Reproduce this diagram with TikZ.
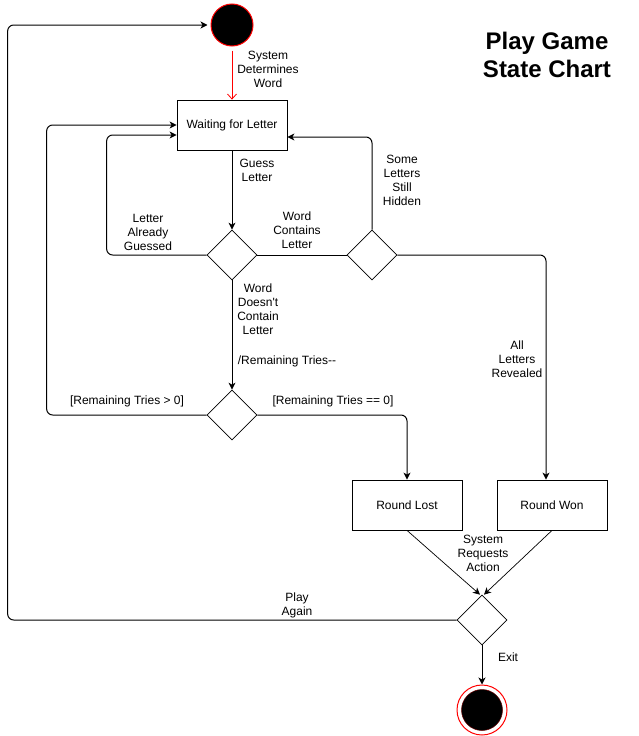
\documentclass[tikz,border=0pt]{standalone}
\usepackage{fontspec}
\newfontfamily\dfont{Liberation Sans}
\usetikzlibrary{shapes.geometric,arrows.meta}
\begin{document}
\begin{tikzpicture}[x=1pt,y=-1pt,
  lbl/.style={align=center,inner sep=0pt,font=\dfont\fontsize{12}{14}\selectfont},
  statebox/.style={draw,line width=0.8pt,minimum width=110pt,minimum height=50pt,inner sep=0pt,font=\dfont\fontsize{12}{14}\selectfont},
  choice/.style={diamond,draw,line width=0.7pt,minimum width=50pt,minimum height=50pt,inner sep=0pt},
  initial/.style={circle,draw=red,line width=1pt,fill=black,minimum size=42pt,inner sep=0pt},
  finalouter/.style={circle,draw=red,line width=1pt,fill=white,minimum size=50pt,inner sep=0pt},
  finalinner/.style={circle,fill=black,draw=red!40!black,line width=0.5pt,minimum size=41pt,inner sep=0pt},
  conn/.style={line width=1pt,-{Stealth[length=7pt,width=7pt,inset=2pt]},rounded corners=6pt},
  plain/.style={line width=1pt,rounded corners=6pt},
  thin/.style={line width=0.7pt,-{Stealth[length=7pt,width=7pt,inset=2pt]}},
  redconn/.style={line width=0.8pt,draw=red,-{Straight Barb[length=5pt,width=9pt]}},
]
\useasboundingbox (0,0) rectangle (638,736);
% nodes
\node[initial] (start) at (232,25) {};
\node[statebox] (wait) at (232,125) {Waiting for Letter};
\node[choice] (d1) at (232,255) {};
\node[choice] (d2) at (372,255) {};
\node[choice] (d3) at (232,415) {};
\node[statebox] (lost) at (407,505) {Round Lost};
\node[statebox] (won) at (552,505) {Round Won};
\node[choice] (d4) at (482,620) {};
\node[finalouter] (fin) at (482,710) {};
\node[finalinner] (finin) at (fin) {};
\node[align=center,inner sep=0pt,font=\dfont\bfseries\fontsize{24}{28}\selectfont] (title) at (547,55) {Play Game\\State Chart};
% connectors
\draw[redconn,shorten <=4pt] (start) -- (wait);
\draw[conn] (wait) -- (d1);
\draw[conn] (d1.west) -- ++(-100,0) |- ([yshift=-10pt]wait.west);
\draw[plain] (d1.east) -- (d2.west);
\draw[conn] (d2.north) |- ([yshift=-12pt]wait.east);
\draw[conn] (d2.east) -| ([xshift=-6pt]won.north);
\draw[conn] (d1) -- (d3);
\draw[conn] (d3.west) -- ++(-160,0) |- (wait.west);
\draw[conn] (d3.east) -| (lost.north);
\draw[thin] (lost.south) -- ([xshift=-2pt]d4.north);
\draw[thin] (won.south) -- ([xshift=2pt]d4.north);
\draw[conn,shorten >=3pt] (d4.west) -- ++(-449,0) |- (start.west);
\draw[conn] (d4) -- (fin);
% labels
\node[lbl] (l1) at (268,69) {System\\Determines\\Word};
\node[lbl] (l2) at (257,170) {Guess\\Letter};
\node[lbl] (l3) at (148,232) {Letter\\Already\\Guessed};
\node[lbl] (l4) at (297,230) {Word\\Contains\\Letter};
\node[lbl] (l5) at (402,180) {Some\\Letters\\Still\\Hidden};
\node[lbl] (l6) at (258,309) {Word\\Doesn't\\Contain\\Letter};
\node[lbl] (l7) at (287,361) {/Remaining Tries--};
\node[lbl] (l8) at (517,359) {All\\Letters\\Revealed};
\node[lbl] (l9) at (127,401) {[Remaining Tries > 0]};
\node[lbl] (l10) at (333,401) {[Remaining Tries == 0]};
\node[lbl] (l11) at (483,553) {System\\Requests\\Action};
\node[lbl] (l12) at (297,605) {Play\\Again};
\node[lbl] (l13) at (508,657) {Exit};
\end{tikzpicture}
\end{document}
